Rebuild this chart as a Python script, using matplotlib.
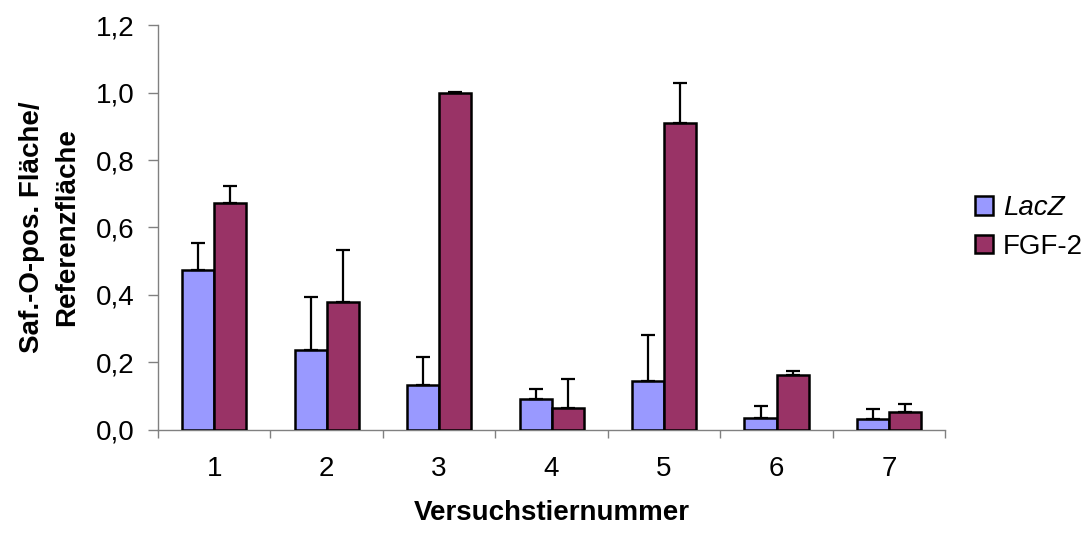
import numpy as np
import matplotlib.pyplot as plt

tiere = ['1', '2', '3', '4', '5', '6', '7']
lacz = [0.474, 0.237, 0.132, 0.092, 0.146, 0.036, 0.033]
lacz_err = [0.080, 0.157, 0.085, 0.030, 0.135, 0.036, 0.030]
fgf2 = [0.673, 0.380, 0.999, 0.064, 0.911, 0.164, 0.053]
fgf2_err = [0.050, 0.153, 0.003, 0.086, 0.116, 0.011, 0.024]

c_lacz = '#9999FF'
c_fgf = '#993366'
grau = '#808080'

plt.rcParams['font.family'] = ['Liberation Sans', 'DejaVu Sans']

fig = plt.figure(figsize=(10.89, 5.34), dpi=100)
ax = fig.add_axes([0.145, 0.195, 0.723, 0.758])

x = np.arange(1, len(tiere) + 1)
w = 0.285
err_kw = dict(ecolor='black', elinewidth=1.6, capsize=4.7, capthick=1.6)

ax.bar(x - w / 2, lacz, w, color=c_lacz, edgecolor='black', linewidth=1.8,
       yerr=[np.zeros(len(lacz)), lacz_err], error_kw=err_kw, label='LacZ', zorder=3)
ax.bar(x + w / 2, fgf2, w, color=c_fgf, edgecolor='black', linewidth=1.8,
       yerr=[np.zeros(len(fgf2)), fgf2_err], error_kw=err_kw, label='FGF-2', zorder=3)

ax.set_xlim(0.5, 7.5)
ax.set_ylim(0, 1.2)
yt = np.arange(0, 1.21, 0.2)
ax.set_yticks(yt)
ax.set_yticklabels([f'{v:.1f}'.replace('.', ',') for v in yt], fontsize=20)

# Striche zwischen den Gruppen, Beschriftung mittig
ax.set_xticks(np.arange(0.5, 7.6, 1.0))
ax.set_xticklabels([])
ax.set_xticks(x, minor=True)
ax.set_xticklabels(tiere, minor=True, fontsize=20)
ax.tick_params(axis='x', which='minor', length=0, pad=19)
ax.tick_params(axis='x', which='major', length=6, width=1, color=grau, direction='out')
ax.tick_params(axis='y', length=7, width=1, color=grau, direction='out', pad=10)

for s in ['top', 'right']:
    ax.spines[s].set_visible(False)
for s in ['left', 'bottom']:
    ax.spines[s].set_color(grau)
    ax.spines[s].set_linewidth(1)

ax.set_xlabel('Versuchstiernummer', fontsize=20, fontweight='bold', labelpad=13)
ax.set_ylabel('Saf.-O-pos. Fläche/\nReferenzfläche', fontsize=20, fontweight='bold',
              labelpad=11, linespacing=1.45)

leg = ax.legend(loc='center left', bbox_to_anchor=(1.038, 0.5), frameon=False,
                fontsize=20, handlelength=0.65, handleheight=0.65, handletextpad=0.36,
                labelspacing=0.45, borderpad=0, borderaxespad=0)
leg.get_texts()[0].set_style('italic')

fig.savefig('out.png', dpi=100)
